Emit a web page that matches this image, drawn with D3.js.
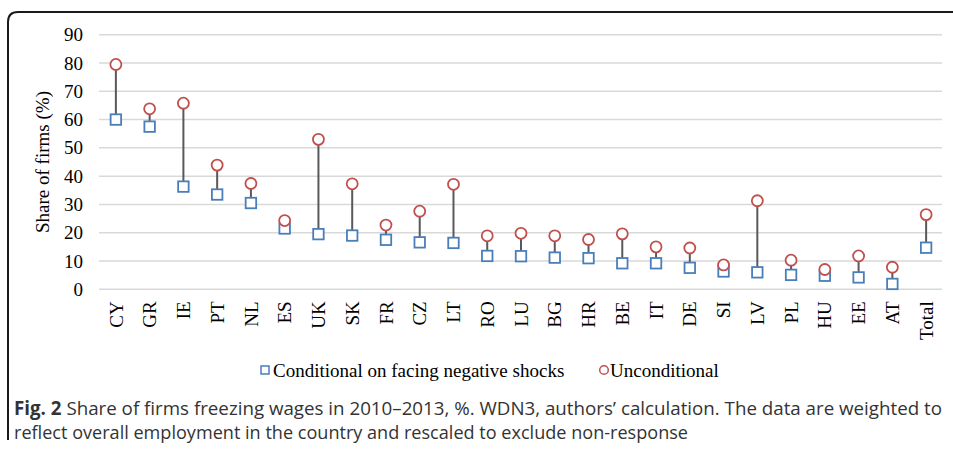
<!DOCTYPE html>
<html>
<head>
<meta charset="utf-8">
<script src="https://cdn.jsdelivr.net/npm/d3@7"></script>
<style>
  body { margin: 0; background: #fff; }
</style>
</head>
<body>
<div id="chart"></div>
<script>
var countries = ["CY","GR","IE","PT","NL","ES","UK","SK","FR","CZ","LT","RO","LU","BG","HR","BE","IT","DE","SI","LV","PL","HU","EE","AT","Total"];
var conditional = [60,57.5,36.3,33.5,30.5,21.5,19.5,19,17.5,16.6,16.4,11.8,11.7,11.2,11,9.2,9.2,7.6,6.3,6,5.1,4.8,4.2,1.9,14.7];
var unconditional = [79.5,63.8,65.8,43.9,37.4,24.3,53,37.3,22.7,27.6,37.1,18.9,19.8,18.9,17.6,19.6,15,14.6,8.6,31.3,10.3,7,11.8,7.8,26.4];
var yTicks = [0,10,20,30,40,50,60,70,80,90];

var width = 953, height = 449;
var margin = {top: 35, right: 11, bottom: 160, left: 99};
var serif = "Liberation Serif, Times New Roman, serif";

var svg = d3.select("#chart").append("svg")
    .attr("width", width)
    .attr("height", height);

// frame: rounded top-left corner, open at the right
svg.append("path")
    .attr("d", "M8,440 L8,22 Q8,12 18,12 L953,12")
    .attr("fill", "none")
    .attr("stroke", "#1a1a1a")
    .attr("stroke-width", 2);

var x = d3.scaleBand()
    .domain(countries)
    .range([margin.left, 943]);

var y = d3.scaleLinear()
    .domain([0, 90])
    .range([289.3, 34.7]);

// grid
svg.append("g").selectAll("line")
    .data(yTicks)
    .enter().append("line")
    .attr("x1", margin.left)
    .attr("x2", 942)
    .attr("y1", function(d) { return y(d); })
    .attr("y2", function(d) { return y(d); })
    .attr("stroke", "#d9d9d9")
    .attr("stroke-width", 1.5);

// y axis labels
var yAxis = svg.append("g")
    .attr("transform", "translate(" + margin.left + ",0)")
    .call(d3.axisLeft(y).tickValues(yTicks).tickSize(0).tickPadding(16));
yAxis.select(".domain").remove();
yAxis.selectAll("text")
    .attr("font-family", serif)
    .attr("font-size", 19)
    .attr("fill", "#000");

svg.append("text")
    .attr("transform", "translate(49,162) rotate(-90)")
    .attr("text-anchor", "middle")
    .attr("font-family", serif)
    .attr("font-size", 19)
    .text("Share of firms (%)");

// x axis labels
var xAxis = svg.append("g")
    .attr("transform", "translate(0,289.3)")
    .call(d3.axisBottom(x).tickSize(0).tickPadding(0));
xAxis.select(".domain").remove();
xAxis.selectAll("text")
    .attr("font-family", serif)
    .attr("font-size", 19)
    .attr("fill", "#000")
    .attr("text-anchor", "end")
    .attr("dy", "0.35em")
    .attr("transform", "translate(0,12) rotate(-90)");

var idx = d3.range(countries.length);

// connectors
svg.append("g").selectAll("line")
    .data(idx)
    .enter().append("line")
    .attr("x1", function(i) { return x(countries[i]) + x.bandwidth() / 2; })
    .attr("x2", function(i) { return x(countries[i]) + x.bandwidth() / 2; })
    .attr("y1", function(i) { return y(conditional[i]); })
    .attr("y2", function(i) { return y(unconditional[i]); })
    .attr("stroke", "#595959")
    .attr("stroke-width", 2);

var sq = 10.5;
svg.append("g").selectAll("rect")
    .data(idx)
    .enter().append("rect")
    .attr("x", function(i) { return x(countries[i]) + x.bandwidth() / 2 - sq / 2; })
    .attr("y", function(i) { return y(conditional[i]) - sq / 2; })
    .attr("width", sq)
    .attr("height", sq)
    .attr("fill", "#fff")
    .attr("stroke", "#4a7ebb")
    .attr("stroke-width", 1.8);

svg.append("g").selectAll("circle")
    .data(idx)
    .enter().append("circle")
    .attr("cx", function(i) { return x(countries[i]) + x.bandwidth() / 2; })
    .attr("cy", function(i) { return y(unconditional[i]); })
    .attr("r", 5.5)
    .attr("fill", "#fff")
    .attr("stroke", "#c0504d")
    .attr("stroke-width", 1.8);

// legend
var leg = svg.append("g")
    .attr("font-family", serif)
    .attr("font-size", 19);
leg.append("rect")
    .attr("x", 261).attr("y", 366).attr("width", 8).attr("height", 8)
    .attr("fill", "#fff").attr("stroke", "#4a7ebb").attr("stroke-width", 1.5);
leg.append("text").attr("x", 273).attr("y", 377).text("Conditional on facing negative shocks");
leg.append("circle")
    .attr("cx", 604).attr("cy", 370).attr("r", 4.3)
    .attr("fill", "#fff").attr("stroke", "#c0504d").attr("stroke-width", 1.5);
leg.append("text").attr("x", 610).attr("y", 377).text("Unconditional");

// caption
var cap = svg.append("g")
    .attr("font-family", "Open Sans, sans-serif")
    .attr("font-size", 19)
    .attr("fill", "#333");
var line1 = cap.append("text").attr("x", 14).attr("y", 415)
    .attr("textLength", 928).attr("lengthAdjust", "spacingAndGlyphs");
line1.append("tspan").attr("font-weight", "bold").text("Fig. 2");
line1.append("tspan").text(" Share of firms freezing wages in 2010\u20132013, %. WDN3, authors\u2019 calculation. The data are weighted to");
cap.append("text").attr("x", 14).attr("y", 439)
    .attr("textLength", 674).attr("lengthAdjust", "spacingAndGlyphs")
    .text("reflect overall employment in the country and rescaled to exclude non-response");
</script>
</body>
</html>
